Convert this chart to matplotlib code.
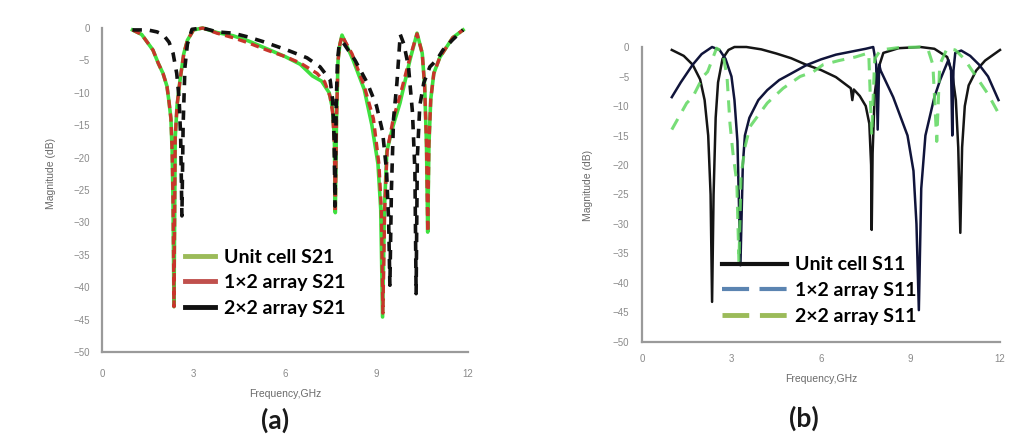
import matplotlib
matplotlib.use("Agg")
import matplotlib.pyplot as plt
from matplotlib.lines import Line2D

# ---- panel (a): S21 curves ----
unit_s21_f = [1.0, 1.3, 1.67, 1.85, 2.0, 2.13, 2.2, 2.26, 2.3, 2.33, 2.36, 2.4, 2.46, 2.56, 2.68, 2.8, 3.0,
              3.3, 3.77, 4.3, 4.8, 5.4, 6.0, 6.5, 6.9, 7.2, 7.45, 7.56, 7.62, 7.65, 7.69, 7.74, 7.8, 7.87,
              8.23, 8.6, 8.85, 9.05, 9.14, 9.2, 9.26, 9.34, 9.55, 9.77, 10.1, 10.33, 10.5, 10.58, 10.64, 10.68,
              10.72, 10.78, 10.88, 11.08, 11.5, 11.84]
unit_s21_db = [-0.3, -1.0, -3.4, -5.5, -7.0, -9.0, -11.5, -14, -19, -27, -43, -17, -12, -8, -4, -1.9, -0.3,
               0.0, -0.7, -1.2, -2.0, -3.2, -4.4, -5.6, -7.4, -8.2, -10.0, -12.5, -17, -28.5, -14, -5, -2.5, -1.1,
               -4.9, -9.5, -15, -21, -28, -44.6, -28, -19, -15, -11.6, -4.9, -0.8, -3.9, -9, -18, -31.5,
               -18, -11, -7, -4.5, -1.5, -0.3]

arr12_s21_f = [1.0, 1.3, 1.67, 1.85, 2.0, 2.13, 2.2, 2.26, 2.3, 2.33, 2.36, 2.4, 2.46, 2.56, 2.68, 2.8, 3.0,
               3.3, 3.77, 4.3, 4.8, 5.4, 6.0, 6.5, 7.05, 7.3, 7.48, 7.56, 7.62, 7.65, 7.69, 7.74, 7.8, 7.87,
               8.2, 8.6, 8.9, 9.08, 9.16, 9.21, 9.27, 9.35, 9.55, 9.77, 10.1, 10.33, 10.5, 10.58, 10.64, 10.68,
               10.72, 10.78, 10.88, 11.08, 11.5, 11.84]
arr12_s21_db = [-0.3, -1.0, -3.4, -5.5, -7.0, -9.0, -11.5, -14, -19, -27, -43, -17, -12, -8, -4, -1.9, -0.3,
                0.0, -0.8, -1.5, -2.3, -3.4, -4.4, -5.4, -7.0, -8.3, -10.6, -13, -18, -28.5, -14, -5, -2.5, -1.2,
                -4.0, -9.0, -14, -21, -28, -44, -28, -19, -14, -10.5, -4.5, -0.9, -3.9, -9, -18, -31.5,
                -18, -11, -7, -4.5, -1.5, -0.3]

arr22_s21_f = [1.0, 1.5, 1.8, 2.0, 2.2, 2.33, 2.45, 2.53, 2.58, 2.62, 2.66, 2.72, 2.8, 2.95, 3.3, 3.77, 4.3,
               4.8, 5.28, 6.07, 6.72, 7.15, 7.48, 7.56, 7.61, 7.64, 7.68, 7.72, 7.78, 7.9, 8.3, 8.7, 9.0, 9.2,
               9.33, 9.4, 9.44, 9.49, 9.56, 9.67, 9.78, 9.9, 10.05, 10.18, 10.26, 10.3, 10.34, 10.42, 10.55,
               10.75, 10.98, 11.18, 11.5, 11.84]
arr22_s21_db = [-0.3, -0.3, -0.6, -1.0, -2.2, -3.9, -7, -11, -17, -29, -15, -6, -2.5, -0.2, 0.0, -0.6, -0.8,
                -1.4, -2.1, -3.4, -4.6, -6.0, -8.0, -11, -17, -27.5, -12, -5, -2.5, -2.2, -5.0, -8.5, -12, -16,
                -22, -30, -39.7, -25, -14, -8.5, -1.0, -2.5, -6, -13, -22, -41, -20, -12, -8.5, -6.0, -4.9, -3.4,
                -1.8, -0.3]

# ---- panel (b): S11 curves ----
unit_s11_f = [1.0, 1.4, 1.7, 1.95, 2.1, 2.22, 2.3, 2.35, 2.4, 2.47, 2.55, 2.7, 2.9, 3.1, 3.5, 4.0, 4.5, 5.0,
              5.5, 6.0, 6.5, 7.0, 7.05, 7.1, 7.3, 7.5, 7.62, 7.68, 7.7, 7.73, 7.8, 7.9, 8.09, 8.6, 9.33, 9.8,
              10.23, 10.4, 10.52, 10.6, 10.67, 10.73, 10.82, 10.95, 11.2, 11.5, 12.0]
unit_s11_db = [-0.5, -1.5, -3.0, -5.5, -9.0, -15, -25, -43.2, -25, -12, -6, -2, -0.5, 0.0, 0.0, -0.4, -1.1, -1.9,
               -3.0, -3.9, -5.1, -7.0, -9.0, -7.2, -8.3, -10, -13, -20, -31, -18, -8, -4, -1.0, -0.2, 0.0, -0.3,
               -1.7, -4.5, -9, -17, -31.5, -17, -10, -6.5, -4.0, -2.3, -0.5]

arr12_s11_f = [1.0, 1.3, 1.7, 2.0, 2.35, 2.6, 2.8, 3.0, 3.1, 3.2, 3.3, 3.38, 3.45, 3.6, 3.9, 4.2, 4.6, 5.0,
               5.5, 6.0, 6.5, 7.0, 7.5, 7.75, 7.85, 7.9, 7.95, 8.0, 8.42, 8.9, 9.1, 9.2, 9.28, 9.36, 9.5, 9.8,
               10.0, 10.27, 10.36, 10.4, 10.44, 10.5, 10.7, 11.0, 11.3, 11.6, 11.95]
arr12_s11_db = [-8.5, -6.0, -3.0, -1.2, 0.0, -0.5, -2.0, -5.0, -9.0, -16, -37, -20, -15, -12, -9.0, -7.3, -5.6,
                -4.5, -3.1, -2.1, -1.3, -0.8, -0.3, 0.0, -3.0, -14, -3.0, -4.0, -8.5, -15, -21, -30, -44.6, -24,
                -15, -8.5, -5.5, -2.2, -4.0, -15, -4.0, -1.0, -0.6, -1.5, -3.0, -5.0, -9.0]

arr22_s11_f = [1.0, 1.5, 1.7, 2.05, 2.2, 2.5, 2.7, 2.85, 2.95, 3.05, 3.18, 3.25, 3.32, 3.45, 3.62, 4.2, 4.73,
               5.3, 5.74, 6.07, 6.6, 7.15, 7.6, 7.7, 7.8, 8.0, 8.6, 9.3, 9.6, 9.75, 9.88, 9.98, 10.23, 10.5,
               10.8, 11.2, 11.6, 12.0]
arr22_s11_db = [-14, -9.5, -8.5, -5.0, -4.2, -0.2, -0.8, -5.0, -13, -18, -23, -36.5, -22, -17, -13.5, -9.5,
                -7.0, -5.0, -4.2, -3.0, -2.3, -1.7, -1.0, -15, -2.0, -0.5, -0.1, 0.0, -0.6, -3.0, -16, -3.0,
                -0.2, -0.5, -2.0, -5.0, -8.0, -11.7]

x_ticks = [0, 3, 6, 9, 12]
y_ticks = [0, -5, -10, -15, -20, -25, -30, -35, -40, -45, -50]
labels_a = ["Unit cell S21", "1\u00d72 array S21", "2\u00d72 array S21"]
labels_b = ["Unit cell S11", "1\u00d72 array S11", "2\u00d72 array S11"]

fig = plt.figure(figsize=(10.14, 4.36), dpi=100)
ax_a = fig.add_axes([0.1006, 0.1927, 0.3609, 0.7431])
ax_b = fig.add_axes([0.6331, 0.2156, 0.3531, 0.6766])


def style_axes(ax, xlabel_y, label_x, label_y):
    ax.set_xlim(0, 12)
    ax.set_ylim(-50, 0)
    ax.set_xticks(x_ticks)
    ax.set_yticks(y_ticks)
    for s in ["top", "right"]:
        ax.spines[s].set_visible(False)
    for s in ["left", "bottom"]:
        ax.spines[s].set_color("#9a9a9a")
        ax.spines[s].set_linewidth(1.6)
    ax.tick_params(length=0, labelsize=7, colors="#8a8a8a")
    ax.tick_params(axis="x", pad=12)
    ax.tick_params(axis="y", pad=9)
    for t in ax.get_xticklabels() + ax.get_yticklabels():
        t.set_family("Liberation Sans")
    ax.set_xlabel("Frequency,GHz", fontsize=7.5, color="#6a6a6a", family="Liberation Sans")
    ax.set_ylabel("Magnitude (dB)", fontsize=7.5, color="#6a6a6a", family="Liberation Sans")
    ax.xaxis.set_label_coords(0.5, xlabel_y)
    ax.yaxis.set_label_coords(label_x, label_y)


leg_font = {"family": "Lato", "weight": "bold", "size": 14}

# panel (a)
ax_a.plot(unit_s21_f, unit_s21_db, color="#3fe03f", lw=2.6, clip_on=False)
ax_a.plot(arr12_s21_f, arr12_s21_db, color="#c8352b", lw=2.4, dashes=(2.5, 1.6), clip_on=False)
ax_a.plot(arr22_s21_f, arr22_s21_db, color="#111111", lw=2.6, dashes=(2.6, 2.2), clip_on=False)
style_axes(ax_a, -0.115, -0.125, 0.55)

h_a = [Line2D([], [], color="#9bbb59", lw=3.5),
       Line2D([], [], color="#c0504d", lw=3.5),
       Line2D([], [], color="#111111", lw=3.5)]
fig.legend(h_a, labels_a, loc="upper left", bbox_to_anchor=(0.182, 0.43), frameon=False,
           borderpad=0, borderaxespad=0, handlelength=1.55, handletextpad=0.5, labelspacing=0.45,
           prop=leg_font)

# panel (b)
ax_b.plot(unit_s11_f, unit_s11_db, color="#151515", lw=1.8, clip_on=False)
ax_b.plot(arr12_s11_f, arr12_s11_db, color="#10143a", lw=1.8, clip_on=False)
ax_b.plot(arr22_s11_f, arr22_s11_db, color="#5fd85f", lw=2.2, dashes=(4, 3), alpha=0.85, clip_on=False)
style_axes(ax_b, -0.11, -0.137, 0.53)
ax_b.tick_params(axis="x", pad=9)

h_b = [Line2D([], [], color="#111111", lw=3.0),
       Line2D([], [], color="#5b84b1", lw=3.0, dashes=(6.5, 2.5)),
       Line2D([], [], color="#9bbb59", lw=3.5, dashes=(5.5, 2.2))]
fig.legend(h_b, labels_b, loc="upper left", bbox_to_anchor=(0.712, 0.412), frameon=False,
           borderpad=0, borderaxespad=0, handlelength=3.35, handletextpad=0.4, labelspacing=0.45,
           prop=leg_font)

fig.text(0.271, 0.036, "(a)", fontsize=19, fontweight="bold", family="Lato", ha="center", va="center",
         color="#1a1a1a")
fig.text(0.793, 0.04, "(b)", fontsize=19, fontweight="bold", family="Lato", ha="center", va="center",
         color="#1a1a1a")

fig.savefig("out.png", dpi=100, facecolor="white")
